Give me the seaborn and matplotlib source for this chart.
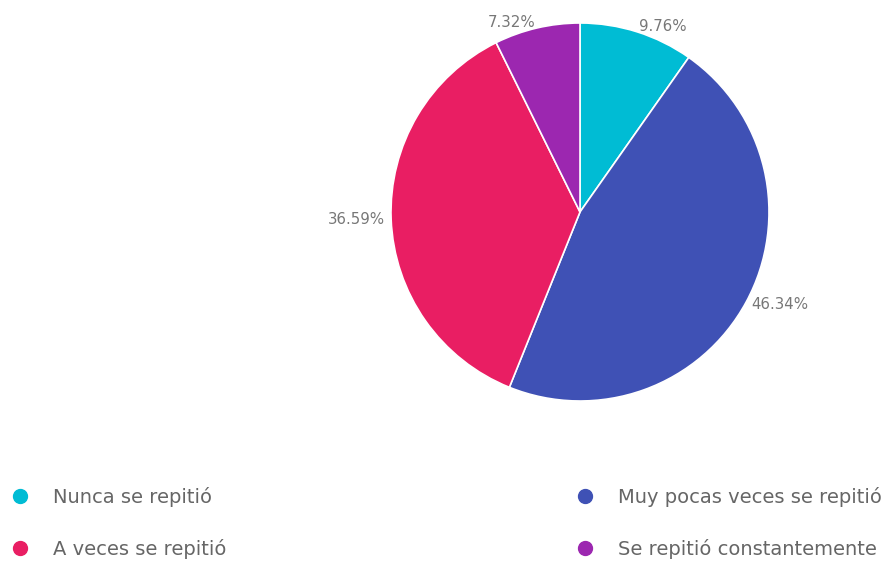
import matplotlib
matplotlib.use("Agg")
import matplotlib.pyplot as plt
import seaborn as sns
from matplotlib.lines import Line2D

sns.set_theme(style="white")
plt.rcParams['font.family'] = ['DejaVu Sans']

categories = ["Nunca se repitió", "Muy pocas veces se repitió",
              "A veces se repitió", "Se repitió constantemente"]
values = [9.76, 46.34, 36.59, 7.32]
pct_labels = ["9.76%", "46.34%", "36.59%", "7.32%"]
colors = ["#00BCD4", "#3F51B5", "#E91E63", "#9C27B0"]

W, H = 886, 562
fig = plt.figure(figsize=(W / 100, H / 100), dpi=100)
cx, cy, r = 580, 212, 189
ax = fig.add_axes([(cx - r) / W, (H - cy - r) / H, 2 * r / W, 2 * r / H])

wedges, texts = ax.pie(values, labels=pct_labels, colors=colors, startangle=90,
                       counterclock=False, labeldistance=1.03,
                       wedgeprops=dict(edgecolor="white", linewidth=1.2),
                       textprops=dict(color="#777777", fontsize=10.8))
ax.set_aspect("equal")
ax.set_xlim(-1, 1)
ax.set_ylim(-1, 1)

def handle(c):
    return Line2D([], [], marker="o", linestyle="", markersize=10,
                  markerfacecolor=c, markeredgecolor=c)

fs = 14
common = dict(loc="center left", frameon=False, fontsize=fs, borderpad=0,
              borderaxespad=0, handlelength=1.0, handletextpad=1.2,
              labelspacing=1.64, labelcolor="#666666")
y_leg = 1 - 523 / H
leg1 = fig.legend(handles=[handle(colors[0]), handle(colors[2])],
                  labels=[categories[0], categories[2]],
                  bbox_to_anchor=(10.3 / W, y_leg), **common)
leg2 = fig.legend(handles=[handle(colors[1]), handle(colors[3])],
                  labels=[categories[1], categories[3]],
                  bbox_to_anchor=(575.3 / W, y_leg), **common)

fig.savefig("out.png", dpi=100, facecolor="white")
